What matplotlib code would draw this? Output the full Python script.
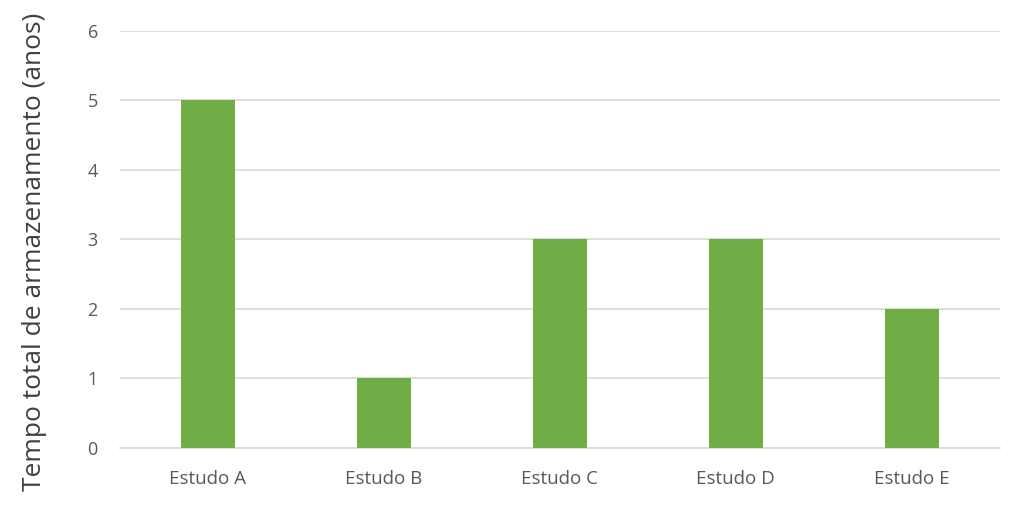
import matplotlib
matplotlib.use("Agg")
import matplotlib.pyplot as plt

categories = ["Estudo A", "Estudo B", "Estudo C", "Estudo D", "Estudo E"]
values = [5, 1, 3, 3, 2]
y_ticks = [0, 1, 2, 3, 4, 5, 6]

plt.rcParams["font.family"] = ["Open Sans", "DejaVu Sans"]

fig = plt.figure(figsize=(10.15, 5.08), dpi=100)
ax = fig.add_axes([0.1182, 0.1181, 0.8668, 0.821])

x = range(len(categories))
ax.bar(x, values, width=0.31, color="#70AD47", zorder=3)

ax.set_xlim(-0.5, len(categories) - 0.5)
ax.set_ylim(0, 6)
ax.set_yticks(y_ticks)
ax.set_xticks(list(x))
ax.set_xticklabels(categories)

ax.grid(axis="y", color="#d9d9d9", linewidth=1.2, zorder=0)
ax.grid(axis="x", visible=False)
for side in ["top", "right", "left"]:
    ax.spines[side].set_visible(False)
ax.spines["bottom"].set_color("#d9d9d9")
ax.spines["bottom"].set_linewidth(1.2)

ax.tick_params(axis="y", length=0, colors="#595959", labelsize=13, pad=16)
ax.tick_params(axis="x", length=0, colors="#595959", labelsize=13.5, pad=16)

ax.set_ylabel("Tempo total de armazenamento (anos)", fontsize=19, color="#404040")
ax.yaxis.set_label_coords(-0.083, 0.47)

fig.savefig("out.png", dpi=100, facecolor="white")
